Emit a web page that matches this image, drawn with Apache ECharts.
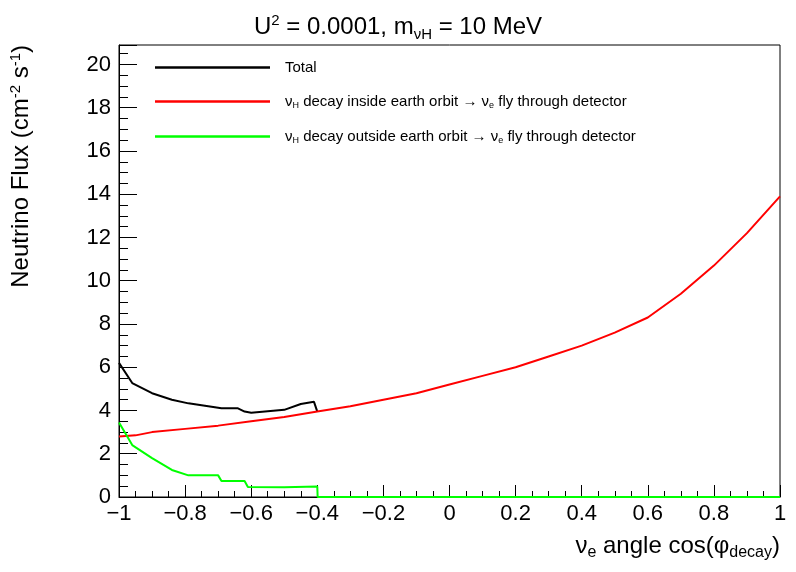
<!DOCTYPE html>
<html>
<head>
<meta charset="UTF-8">
<script src="https://cdn.jsdelivr.net/npm/echarts@6/dist/echarts.min.js"></script>
<style>html,body{margin:0;padding:0;background:#fff}</style>
</head>
<body>
<div id="main" style="width:796px;height:572px;"></div>
<script>
// data
var redX = [-1, -0.95, -0.9, -0.8, -0.7, -0.6, -0.5, -0.4, -0.3, -0.2, -0.1, 0, 0.1, 0.2, 0.3, 0.4, 0.5, 0.6, 0.7, 0.8, 0.9, 1.0];
var redY = [2.8, 2.85, 3.0, 3.15, 3.3, 3.5, 3.7, 3.95, 4.2, 4.5, 4.8, 5.2, 5.6, 6.0, 6.5, 7.0, 7.6, 8.3, 9.4, 10.7, 12.2, 13.9];
var greenX = [-1, -0.96, -0.9, -0.84, -0.79, -0.73, -0.7, -0.69, -0.62, -0.61, -0.5, -0.4, -0.399, 1.0];
var greenY = [3.45, 2.4, 1.8, 1.25, 1.0, 1.0, 1.0, 0.74, 0.74, 0.46, 0.45, 0.48, 0, 0];
var blackX = [-1, -0.96, -0.9, -0.84, -0.79, -0.73, -0.69, -0.64, -0.62, -0.6, -0.5, -0.45, -0.41, -0.4];
var blackY = [6.2, 5.27, 4.8, 4.5, 4.33, 4.2, 4.1, 4.1, 3.95, 3.9, 4.03, 4.3, 4.4, 3.95];

function pairs(xs, ys) { return xs.map(function (x, i) { return [x, ys[i]]; }); }

var chart = echarts.init(document.getElementById('main'));
var font = 'Liberation Sans, Arial, sans-serif';
var rich = {
  n: {fontSize: 15, fontFamily: font, color: '#000'},
  s: {fontSize: 9, fontFamily: font, color: '#000', verticalAlign: 'bottom', padding: [8, 0, 0, 0]}
};
chart.setOption({
  animation: false,
  title: {
    text: '{a|U}{p|2}{a| = 0.0001, m}{b|νH}{a| = 10 MeV}',
    left: 'center', top: 8,
    textStyle: {fontWeight: 'normal', rich: {
      a: {fontSize: 24, fontFamily: font, color: '#000'},
      p: {fontSize: 15, fontFamily: font, color: '#000', verticalAlign: 'top', padding: [0, 0, 12, 0]},
      b: {fontSize: 15, fontFamily: font, color: '#000', padding: [14, 0, 0, 0]}
    }}
  },
  graphic: [{
    type: 'text', left: 8, top: 45, rotation: Math.PI / 2,
    style: {text: '{n|Neutrino Flux (cm}{p|-2}{n| s}{p|-1}{n|)}', rich: {
      n: {fontSize: 24, fontFamily: font, fill: '#000'},
      p: {fontSize: 15, fontFamily: font, fill: '#000', padding: [0, 0, 12, 0]}
    }}
  }],
  legend: {
    orient: 'vertical', left: 150, top: 55, itemGap: 19, itemWidth: 115, itemHeight: 16,
    icon: 'path://M0,7 L100,7 L100,9 L0,9 Z',
    data: ['Total', 'inside', 'outside'],
    textStyle: {rich: rich, padding: [0, 0, 0, 10]},
    formatter: function (n) {
      if (n === 'Total') return '{n|Total}';
      if (n === 'inside') return '{n|ν}{s|H}{n| decay inside earth orbit → ν}{s|e}{n| fly through detector}';
      return '{n|ν}{s|H}{n| decay outside earth orbit → ν}{s|e}{n| fly through detector}';
    }
  },
  grid: {left: 119, right: 16, top: 45, bottom: 75, show: true, borderColor: '#000', borderWidth: 1},
  xAxis: {
    type: 'value', min: -1, max: 1, interval: 0.2,
    axisLine: {onZero: false, lineStyle: {color: '#000'}},
    axisTick: {inside: true, length: 12, lineStyle: {color: '#000'}},
    minorTick: {show: true, splitNumber: 4, length: 6, lineStyle: {color: '#000'}},
    splitLine: {show: false},
    axisLabel: {fontSize: 22, fontFamily: font, color: '#000', margin: 6,
      formatter: function (v) { v = Math.round(v * 10) / 10; return v < 0 ? '−' + Math.abs(v) : String(v); }},
    name: '{n|ν}{s|e}{n| angle cos(φ}{s|decay}{n|)}',
    nameLocation: 'end', nameGap: 0,
    nameTextStyle: {align: 'right', verticalAlign: 'top', padding: [34, 0, 0, 0], rich: {
      n: {fontSize: 24, fontFamily: font, color: '#000'},
      s: {fontSize: 16, fontFamily: font, color: '#000', padding: [14, 0, 0, 0]}
    }}
  },
  yAxis: {
    type: 'value', min: 0, max: 20.9, interval: 2,
    axisLine: {show: true, onZero: false, lineStyle: {color: '#000'}},
    axisTick: {inside: true, length: 18, lineStyle: {color: '#000'}},
    minorTick: {show: true, splitNumber: 4, length: 9, lineStyle: {color: '#000'}},
    splitLine: {show: false},
    axisLabel: {fontSize: 22, fontFamily: font, color: '#000', margin: 8, showMaxLabel: false}
  },
  series: [
    {name: 'Total', type: 'line', showSymbol: false, data: pairs(blackX, blackY), lineStyle: {color: '#000', width: 2}, itemStyle: {color: '#000'}, z: 3},
    {name: 'inside', type: 'line', showSymbol: false, data: pairs(redX, redY), lineStyle: {color: '#ff0000', width: 2}, itemStyle: {color: '#ff0000'}, z: 4},
    {name: 'outside', type: 'line', showSymbol: false, data: pairs(greenX, greenY), lineStyle: {color: '#00ff00', width: 2}, itemStyle: {color: '#00ff00'}, z: 5}
  ]
});
</script>
</body>
</html>
